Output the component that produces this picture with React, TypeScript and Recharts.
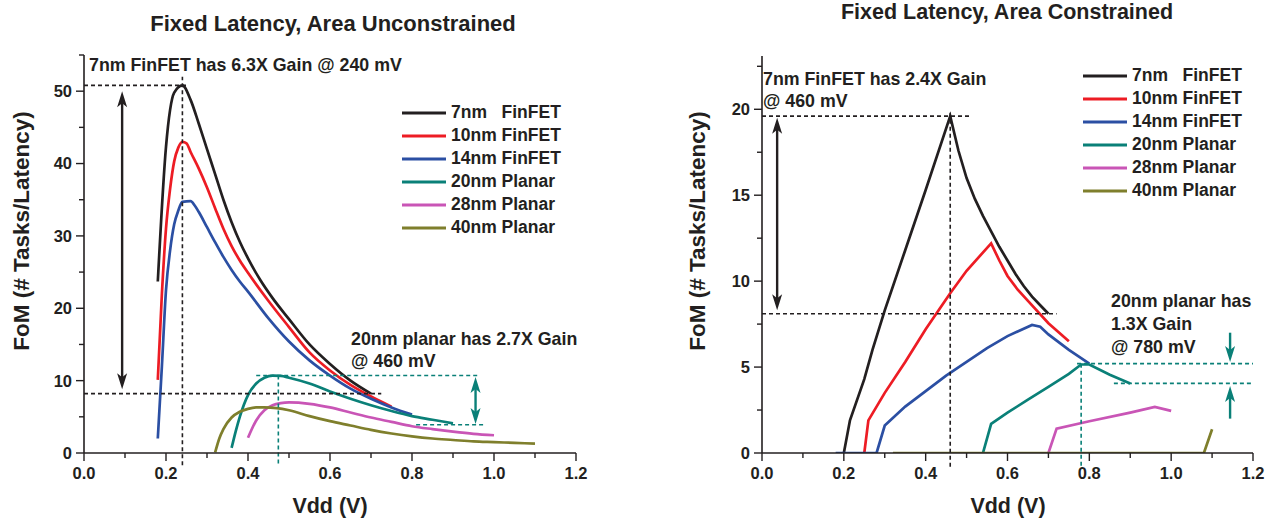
import React from "react";
import { LineChart, Line, XAxis, YAxis, ReferenceLine, Legend } from "recharts";

const FONT = '"Liberation Sans", Arial, Helvetica, sans-serif';
const INK = "#231f20";
const TEAL = "#0a8078";

const seriesNames = [
  "7nm   FinFET",
  "10nm FinFET",
  "14nm FinFET",
  "20nm Planar",
  "28nm Planar",
  "40nm Planar",
];
const seriesColors = ["#231f20", "#ed1c24", "#2b4fa3", "#0a8078", "#c955b6", "#7f7f2c"];

// Area unconstrained, [Vdd, FoM]
const unc7nm = [
  [0.18, 23.7], [0.2, 42.3], [0.22, 49.8], [0.24, 50.8], [0.26, 48.8], [0.28, 45.5],
  [0.3, 42.0], [0.32, 38.5], [0.34, 35.0], [0.36, 31.9], [0.38, 29.2], [0.4, 26.9],
  [0.43, 23.9], [0.46, 21.4], [0.5, 18.5], [0.55, 15.0], [0.6, 12.3], [0.65, 10.0],
  [0.7, 8.2],
];
const unc10nm = [
  [0.18, 10.1], [0.19, 22], [0.2, 31], [0.21, 36.5], [0.22, 40.3], [0.23, 42.2],
  [0.24, 43.0], [0.25, 42.8], [0.26, 41.6], [0.28, 39.3], [0.3, 36.7], [0.32, 33.8],
  [0.34, 31.0], [0.36, 28.6], [0.38, 26.6], [0.4, 24.9], [0.45, 21.0], [0.5, 17.4],
  [0.55, 13.9], [0.6, 11.4], [0.65, 9.4], [0.7, 7.8], [0.75, 6.4],
];
const unc14nm = [
  [0.18, 2.0], [0.19, 12], [0.2, 22.5], [0.21, 28], [0.22, 31.6], [0.23, 33.5],
  [0.24, 34.7], [0.26, 34.8], [0.27, 34.2], [0.28, 33.3], [0.3, 31.2], [0.32, 29.1],
  [0.34, 27.1], [0.36, 25.3], [0.38, 23.7], [0.4, 22.3], [0.45, 18.6], [0.5, 15.4],
  [0.55, 12.8], [0.6, 10.7], [0.65, 8.9], [0.7, 7.5], [0.75, 6.3], [0.8, 5.3],
];
const unc20nm = [
  [0.36, 0.7], [0.37, 3.0], [0.38, 5.0], [0.4, 8.0], [0.42, 9.6], [0.44, 10.4],
  [0.46, 10.7], [0.48, 10.65], [0.5, 10.4], [0.55, 9.6], [0.6, 8.5], [0.65, 7.5],
  [0.7, 6.6], [0.75, 5.8], [0.8, 5.1], [0.85, 4.6], [0.9, 4.1],
];
const unc28nm = [
  [0.4, 2.1], [0.42, 4.5], [0.44, 5.9], [0.46, 6.6], [0.48, 6.9], [0.5, 7.0],
  [0.55, 6.8], [0.6, 6.3], [0.65, 5.6], [0.7, 4.9], [0.75, 4.3], [0.8, 3.7],
  [0.85, 3.3], [0.9, 2.95], [0.95, 2.65], [1.0, 2.45],
];
const unc40nm = [
  [0.32, 0.1], [0.33, 2.0], [0.34, 3.3], [0.36, 4.9], [0.38, 5.7], [0.4, 6.1],
  [0.42, 6.3], [0.44, 6.3], [0.47, 6.2], [0.5, 5.9], [0.55, 5.1], [0.6, 4.4],
  [0.65, 3.8], [0.7, 3.2], [0.75, 2.7], [0.8, 2.3], [0.85, 2.0], [0.9, 1.8],
  [0.95, 1.6], [1.0, 1.5], [1.05, 1.4], [1.1, 1.3],
];

// Area constrained, [Vdd, FoM]
const con7nm = [
  [0.2, 0], [0.215, 1.9], [0.25, 4.3], [0.27, 6.0], [0.3, 8.3], [0.35, 11.8],
  [0.4, 15.3], [0.46, 19.6], [0.48, 17.6], [0.5, 16.0], [0.52, 14.8], [0.54, 13.8],
  [0.56, 12.9], [0.58, 12.0], [0.6, 11.2], [0.62, 10.4], [0.64, 9.7], [0.66, 9.1],
  [0.68, 8.6], [0.7, 8.1],
];
const con10nm = [
  [0.25, 0], [0.26, 1.9], [0.3, 3.5], [0.35, 5.3], [0.4, 7.2], [0.46, 9.3],
  [0.5, 10.6], [0.56, 12.2], [0.58, 11.2], [0.6, 10.3], [0.625, 9.5], [0.65, 8.85],
  [0.7, 7.55], [0.75, 6.5],
];
const con14nm = [
  [0.18, 0], [0.28, 0], [0.3, 1.6], [0.35, 2.7], [0.4, 3.6], [0.45, 4.5],
  [0.5, 5.3], [0.55, 6.1], [0.6, 6.8], [0.66, 7.45], [0.68, 7.35], [0.7, 6.9],
  [0.75, 6.0], [0.8, 5.2],
];
const con20nm = [
  [0.54, 0], [0.56, 1.7], [0.6, 2.35], [0.65, 3.1], [0.7, 3.85], [0.75, 4.6],
  [0.78, 5.15], [0.8, 5.15], [0.85, 4.55], [0.9, 4.05],
];
const con28nm = [[0.7, 0], [0.72, 1.42], [0.8, 1.85], [0.9, 2.35], [0.96, 2.68], [1.0, 2.45]];
const con40nm = [[0.32, 0], [1.08, 0], [1.1, 1.38]];

const xTicks = [0, 0.1, 0.2, 0.3, 0.4, 0.5, 0.6, 0.7, 0.8, 0.9, 1.0, 1.1, 1.2];
const uncYTicks = [0, 5, 10, 15, 20, 25, 30, 35, 40, 45, 50, 55];
const conYTicks = [0, 2.5, 5, 7.5, 10, 12.5, 15, 17.5, 20, 22.5];

// annotation segments in data units
const uncBlackDash = [
  [[0, 50.8], [0.25, 50.8]],
  [[0.24, -1.7], [0.24, 52]],
  [[0, 8.2], [0.725, 8.2]],
];
const uncTealDash = [
  [[0.42, 10.7], [0.96, 10.7]],
  [[0.81, 3.9], [0.975, 3.9]],
  [[0.474, 10.7], [0.474, -1.7]],
];
const uncBlackArrow = [[0.093, 8.8], [0.093, 50.0]];
const uncTealArrow = [[0.955, 4.0], [0.955, 10.5]];

const conBlackDash = [
  [[0, 19.6], [0.51, 19.6]],
  [[0.46, -0.8], [0.46, 19.9]],
  [[0, 8.1], [0.72, 8.1]],
];
const conTealDash = [
  [[0.77, 5.2], [1.2, 5.2]],
  [[0.86, 4.05], [1.2, 4.05]],
  [[0.78, 5.2], [0.78, -0.8]],
];
const conBlackArrow = [[0.037, 8.3], [0.037, 19.5]];
const conTealDown = [[1.144, 7.0], [1.144, 5.3]];
const conTealUp = [[1.144, 2.0], [1.144, 3.9]];

const toPts = (arr: number[][]) => arr.map(([x, y]) => ({ x, y }));
const seg = (s: number[][]) => s.map(([x, y]) => ({ x, y }));

function arrowShape(color: string, both: boolean) {
  return (p: any) => {
    const { x1, y1, x2, y2 } = p;
    const dx = x2 - x1;
    const dy = y2 - y1;
    const len = Math.hypot(dx, dy) || 1;
    const ux = dx / len;
    const uy = dy / len;
    const L = 16;
    const W = 5;
    const head = (tx: number, ty: number, vx: number, vy: number) =>
      `M${tx},${ty} L${tx - vx * L - vy * W},${ty - vy * L + vx * W} L${tx - vx * L * 0.75},${
        ty - vy * L * 0.75
      } L${tx - vx * L + vy * W},${ty - vy * L - vx * W} Z`;
    return (
      <g>
        <line
          x1={both ? x1 + ux * 8 : x1}
          y1={both ? y1 + uy * 8 : y1}
          x2={x2 - ux * 8}
          y2={y2 - uy * 8}
          stroke={color}
          strokeWidth={2.4}
        />
        <path d={head(x2, y2, ux, uy)} fill={color} />
        {both && <path d={head(x1, y1, -ux, -uy)} fill={color} />}
      </g>
    );
  };
}

function makeTick(axis: "x" | "y", majorStep: number, digits: number) {
  return (props: any) => {
    const { x, y, payload } = props;
    const v = payload.value;
    const major = Math.abs(v / majorStep - Math.round(v / majorStep)) < 1e-6;
    const len = major ? 8 : 5;
    const label = major ? v.toFixed(digits) : "";
    if (axis === "x") {
      return (
        <g>
          <line x1={x} y1={y} x2={x} y2={y + len} stroke={INK} strokeWidth={1.4} />
          <text x={x} y={y + 26} textAnchor="middle" fontFamily={FONT} fontWeight="bold" fontSize={16.5} fill={INK}>
            {label}
          </text>
        </g>
      );
    }
    return (
      <g>
        <line x1={x - len} y1={y} x2={x} y2={y} stroke={INK} strokeWidth={1.4} />
        <text x={x - 12} y={y} dy="0.36em" textAnchor="end" fontFamily={FONT} fontWeight="bold" fontSize={16.5} fill={INK}>
          {label}
        </text>
      </g>
    );
  };
}

function LegendBox() {
  return (
    <div style={{ fontFamily: FONT, fontWeight: "bold", fontSize: 17.5, color: INK }}>
      {seriesNames.map((n, i) => (
        <div key={n} style={{ display: "flex", alignItems: "center", height: 23 }}>
          <svg width={44} height={6} style={{ marginRight: 5 }}>
            <line x1={0} y1={3} x2={44} y2={3} stroke={seriesColors[i]} strokeWidth={3.2} />
          </svg>
          <span style={{ whiteSpace: "pre" }}>{n}</span>
        </div>
      ))}
    </div>
  );
}

function Panel(props: {
  series: number[][][];
  curve: "linear" | "monotone";
  yMax: number;
  yTicks: number[];
  yMajor: number;
  yAxisWidth: number;
  margin: any;
  width: number;
  legendPos: { left: number; top: number };
  blackDash: number[][][];
  tealDash: number[][][];
  arrows: { s: number[][]; color: string; both: boolean }[];
}) {
  return (
    <LineChart width={props.width} height={519} margin={props.margin}>
      <XAxis
        dataKey="x"
        type="number"
        domain={[0, 1.2]}
        ticks={xTicks}
        interval={0}
        allowDataOverflow
        height={30}
        tickSize={0}
        tickMargin={0}
        tickLine={false}
        axisLine={{ stroke: INK, strokeWidth: 1.6 }}
        tick={makeTick("x", 0.2, 1)}
      />
      <YAxis
        type="number"
        domain={[0, props.yMax]}
        ticks={props.yTicks}
        interval={0}
        allowDataOverflow
        width={props.yAxisWidth}
        tickSize={0}
        tickMargin={0}
        tickLine={false}
        axisLine={{ stroke: INK, strokeWidth: 1.6 }}
        tick={makeTick("y", props.yMajor, 0)}
      />
      {props.series.map((s, i) => (
        <Line
          key={seriesNames[i]}
          data={toPts(s)}
          dataKey="y"
          name={seriesNames[i]}
          type={props.curve}
          stroke={seriesColors[i]}
          strokeWidth={2.7}
          dot={false}
          activeDot={false}
          isAnimationActive={false}
        />
      ))}
      {props.blackDash.map((s, i) => (
        <ReferenceLine
          key={"b" + i}
          segment={seg(s)}
          stroke={INK}
          strokeWidth={1.6}
          strokeDasharray="4 3"
          ifOverflow="visible"
        />
      ))}
      {props.tealDash.map((s, i) => (
        <ReferenceLine
          key={"t" + i}
          segment={seg(s)}
          stroke={TEAL}
          strokeWidth={1.6}
          strokeDasharray="4 3"
          ifOverflow="visible"
        />
      ))}
      {props.arrows.map((a, i) => (
        <ReferenceLine
          key={"a" + i}
          segment={seg(a.s)}
          stroke={a.color}
          ifOverflow="visible"
          shape={arrowShape(a.color, a.both)}
        />
      ))}
      <Legend
        layout="vertical"
        align="center"
        verticalAlign="middle"
        wrapperStyle={{ left: props.legendPos.left, top: props.legendPos.top, width: 185 }}
        content={() => <LegendBox />}
      />
    </LineChart>
  );
}

const textStyle: React.CSSProperties = {
  position: "absolute",
  fontFamily: FONT,
  fontWeight: "bold",
  color: INK,
  whiteSpace: "nowrap",
};

export default function App() {
  return (
    <div style={{ position: "absolute", left: 0, top: 0, width: 1270, height: 519, background: "#fff" }}>
      <div style={{ position: "absolute", left: 0, top: 0 }}>
        <Panel
          width={640}
          curve="monotone"
          series={[unc7nm, unc10nm, unc14nm, unc20nm, unc28nm, unc40nm]}
          yMax={55}
          yTicks={uncYTicks}
          yMajor={10}
          yAxisWidth={84}
          margin={{ top: 55, right: 64, bottom: 36, left: 0 }}
          legendPos={{ left: 402, top: 101 }}
          blackDash={uncBlackDash}
          tealDash={uncTealDash}
          arrows={[
            { s: uncBlackArrow, color: INK, both: true },
            { s: uncTealArrow, color: TEAL, both: true },
          ]}
        />
      </div>
      <div style={{ position: "absolute", left: 640, top: 0 }}>
        <Panel
          width={630}
          curve="linear"
          series={[con7nm, con10nm, con14nm, con20nm, con28nm, con40nm]}
          yMax={23.1}
          yTicks={conYTicks}
          yMajor={5}
          yAxisWidth={122}
          margin={{ top: 56, right: 17, bottom: 36, left: 0 }}
          legendPos={{ left: 443, top: 64 }}
          blackDash={conBlackDash}
          tealDash={conTealDash}
          arrows={[
            { s: conBlackArrow, color: INK, both: true },
            { s: conTealDown, color: TEAL, both: false },
            { s: conTealUp, color: TEAL, both: false },
          ]}
        />
      </div>

      <div style={{ ...textStyle, fontSize: 22, lineHeight: "26px", left: 333, top: 11, transform: "translateX(-50%)" }}>
        Fixed Latency, Area Unconstrained
      </div>
      <div style={{ ...textStyle, fontSize: 21.5, lineHeight: "26px", left: 1007, top: -1, transform: "translateX(-50%)" }}>
        Fixed Latency, Area Constrained
      </div>

      <div style={{ ...textStyle, fontSize: 17.8, lineHeight: "22px", left: 89, top: 54 }}>
        7nm FinFET has 6.3X Gain @ 240 mV
      </div>
      <div style={{ ...textStyle, fontSize: 17.8, lineHeight: "22px", left: 351, top: 328 }}>
        20nm planar has 2.7X Gain
        <br />@ 460 mV
      </div>
      <div style={{ ...textStyle, fontSize: 17.8, lineHeight: "22px", left: 763, top: 68 }}>
        7nm FinFET has 2.4X Gain
        <br />@ 460 mV
      </div>
      <div style={{ ...textStyle, fontSize: 17.8, lineHeight: "23px", left: 1111, top: 290 }}>
        20nm planar has
        <br />1.3X Gain
        <br />@ 780 mV
      </div>

      <div style={{ ...textStyle, fontSize: 21.5, lineHeight: "24px", left: 330, top: 494, transform: "translateX(-50%)" }}>
        Vdd (V)
      </div>
      <div style={{ ...textStyle, fontSize: 21.5, lineHeight: "24px", left: 1008, top: 494, transform: "translateX(-50%)" }}>
        Vdd (V)
      </div>
      <div
        style={{ ...textStyle, fontSize: 22.5, lineHeight: "26px", left: 22, top: 231, transform: "translate(-50%, -50%) rotate(-90deg)" }}
      >
        FoM (# Tasks/Latency)
      </div>
      <div
        style={{ ...textStyle, fontSize: 22.5, lineHeight: "26px", left: 698, top: 231, transform: "translate(-50%, -50%) rotate(-90deg)" }}
      >
        FoM (# Tasks/Latency)
      </div>
    </div>
  );
}
